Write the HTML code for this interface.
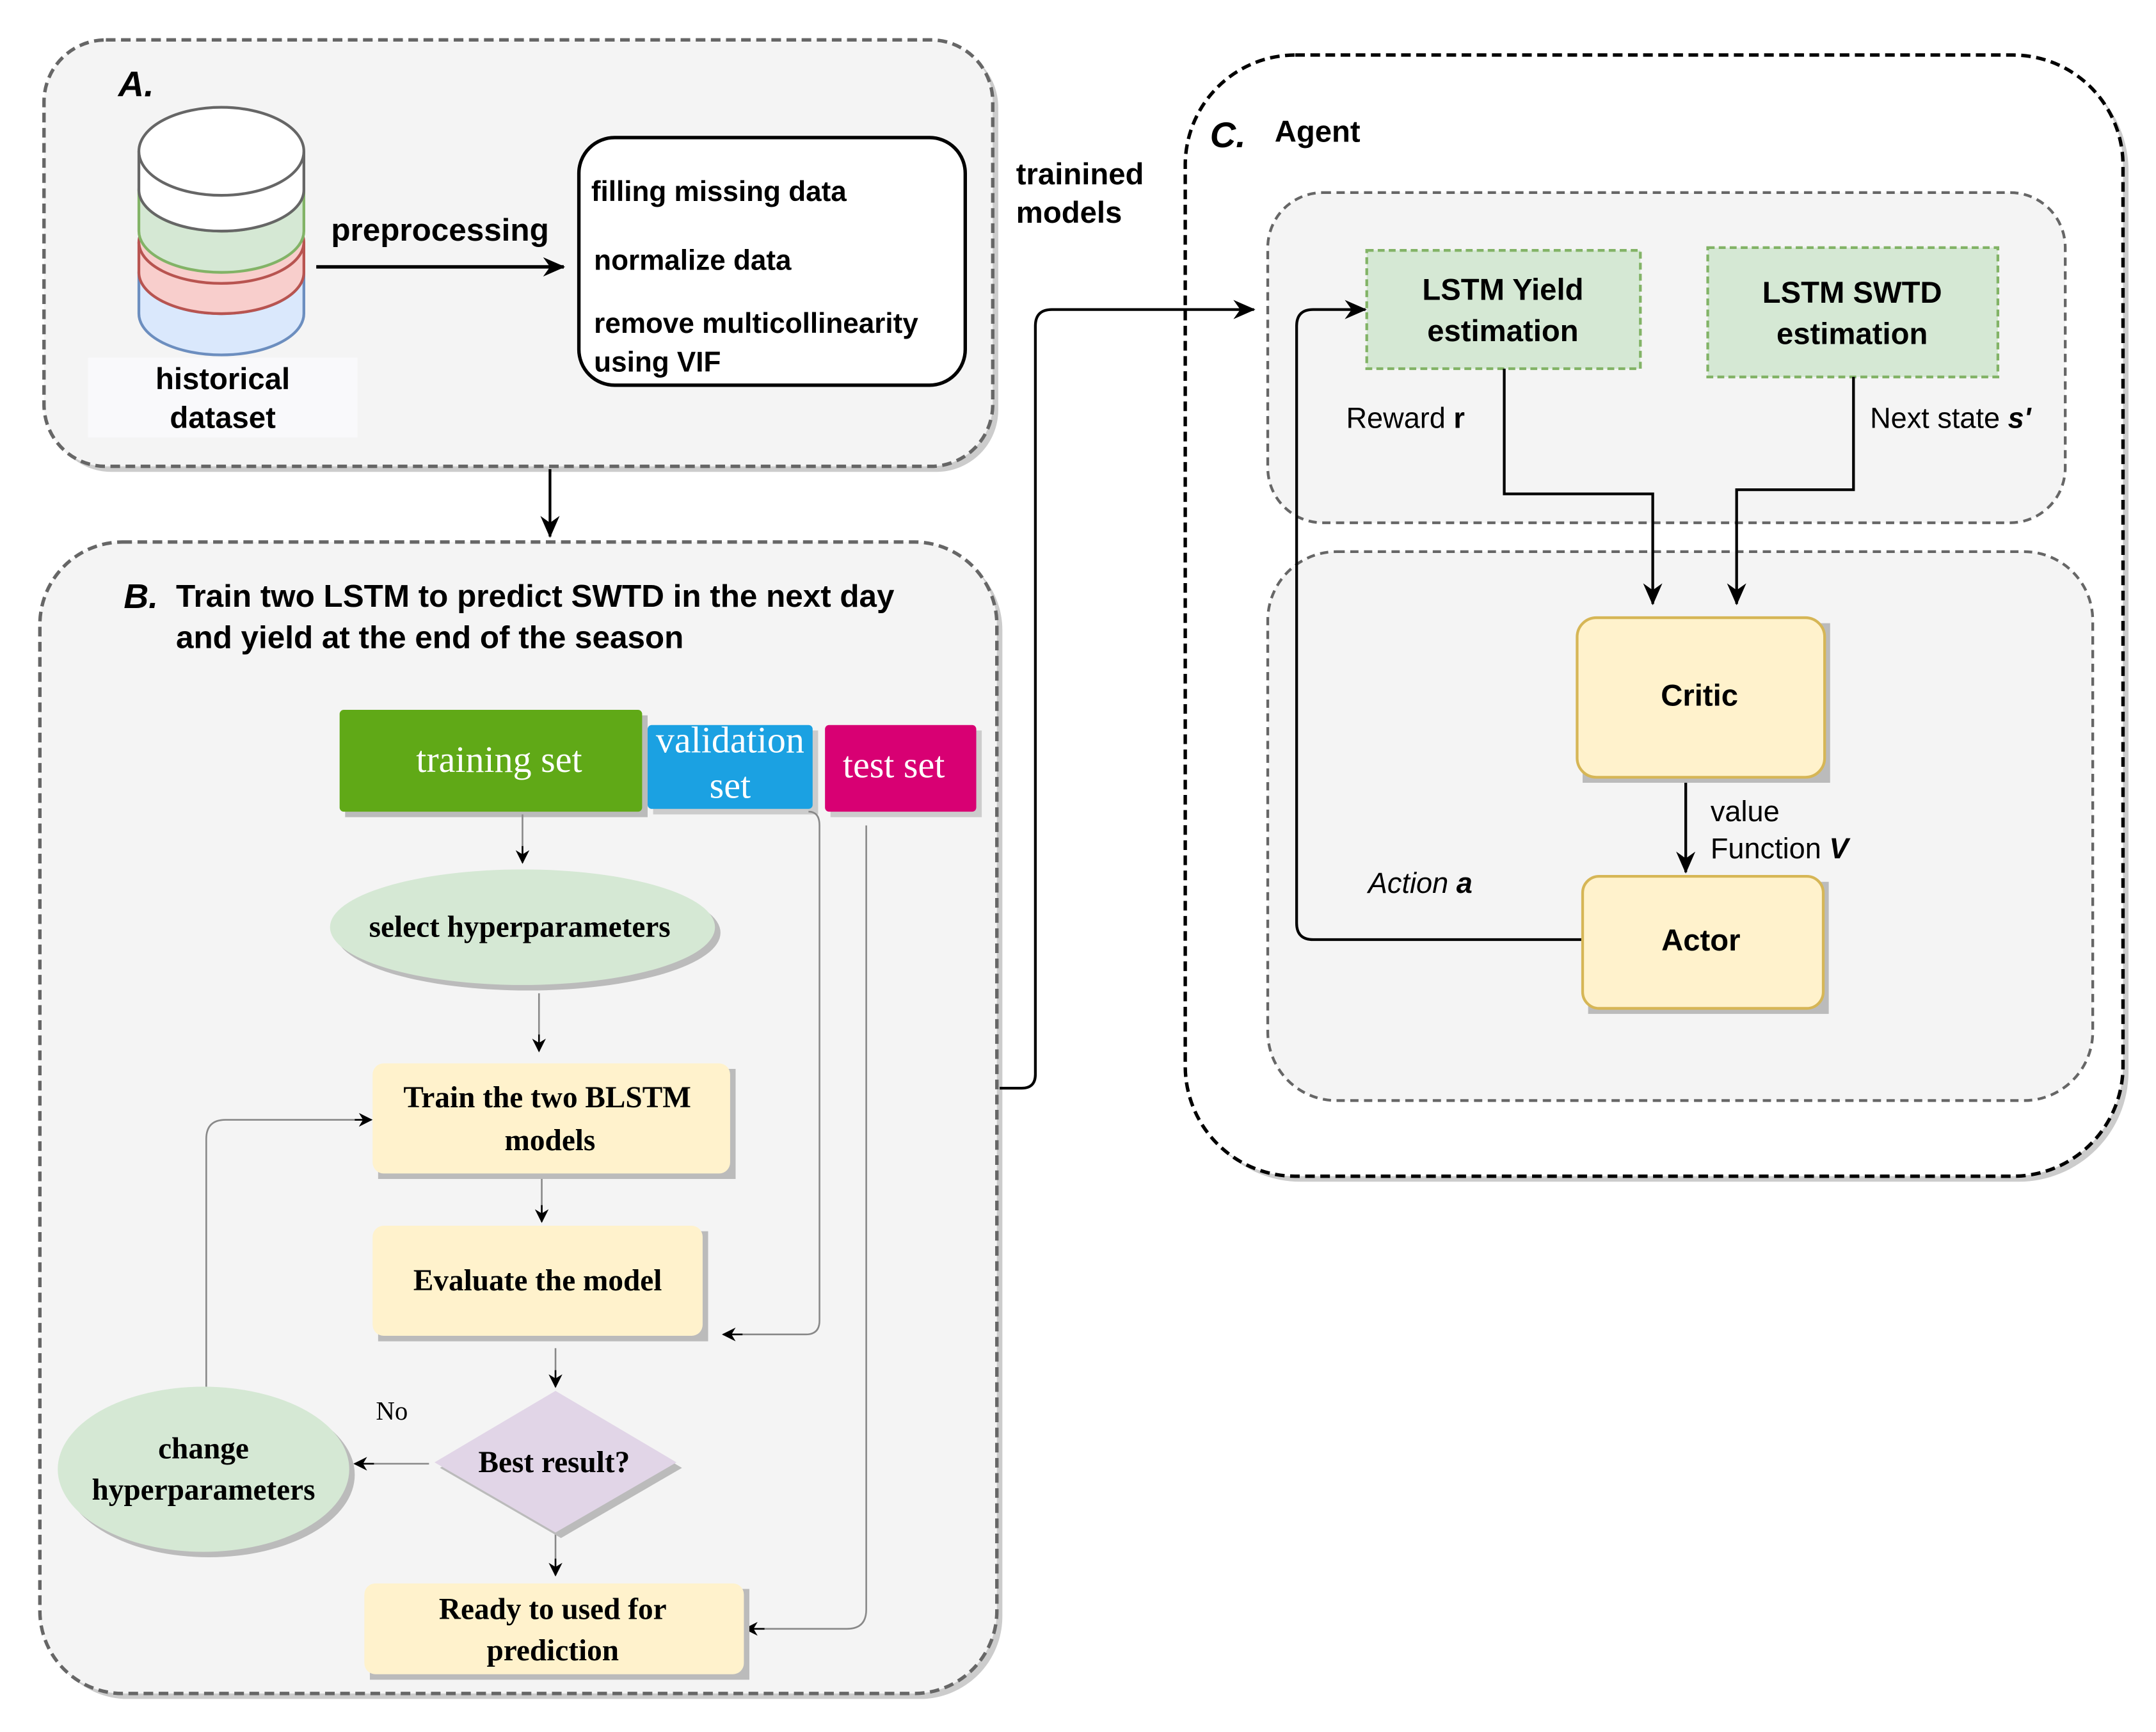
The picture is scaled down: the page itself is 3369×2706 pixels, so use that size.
<!DOCTYPE html>
<html><head><meta charset="utf-8"><style>
html,body{margin:0;padding:0;background:#fff;}
svg{display:block;}
.s{font-family:"Liberation Sans",sans-serif;}
.r{font-family:"Liberation Serif",serif;}
</style></head><body>
<svg width="3369" height="2706" viewBox="0 0 1568 1259" preserveAspectRatio="none" xmlns="http://www.w3.org/2000/svg">
<defs>
<marker id="ar" markerWidth="10" markerHeight="10" refX="9" refY="5" orient="auto" markerUnits="userSpaceOnUse"><path d="M0,0 L10,5 L0,10 L3,5 z" fill="#000"/></marker>
<marker id="ar2" markerWidth="16" markerHeight="14" refX="15" refY="7" orient="auto" markerUnits="userSpaceOnUse"><path d="M0,0 L16,7 L0,14 L5,7 z" fill="#000"/></marker>
</defs>
<!-- A -->
<rect x="36" y="33" width="690" height="310" rx="45" fill="#ccc"/>
<rect x="32" y="29" width="690" height="310" rx="45" fill="#f4f4f4" stroke="#666" stroke-width="2.5" stroke-dasharray="7,4"/>
<text x="86" y="70" class="s" font-size="26" font-weight="bold" font-style="italic">A.</text>
<g stroke-width="2">
<path d="M101,198 v30 a60,30 0 0 0 120,0 v-30" fill="#dae8fc" stroke="#6c8ebf"/>
<ellipse cx="161" cy="198" rx="60" ry="30" fill="#dae8fc" stroke="#6c8ebf"/>
<path d="M101,176 v22 a60,30 0 0 0 120,0 v-22" fill="#f8cecc" stroke="#b85450"/>
<ellipse cx="161" cy="176" rx="60" ry="30" fill="#f8cecc" stroke="#b85450"/>
<path d="M101,138 v30 a60,30 0 0 0 120,0 v-30" fill="#d5e8d4" stroke="#82b366"/>
<ellipse cx="161" cy="138" rx="60" ry="30" fill="#d5e8d4" stroke="#82b366"/>
<path d="M101,110 v28 a60,30 0 0 0 120,0 v-28" fill="#fff" stroke="#666"/>
<ellipse cx="161" cy="110" rx="60" ry="32" fill="#fff" stroke="#666"/>
</g>
<rect x="64" y="260" width="196" height="58" fill="#f9f9fb"/>
<text x="162" y="283" text-anchor="middle" class="s" font-size="22" font-weight="bold">historical</text>
<text x="162" y="311" text-anchor="middle" class="s" font-size="22" font-weight="bold">dataset</text>
<line x1="230" y1="194" x2="410" y2="194" stroke="#000" stroke-width="2.5" marker-end="url(#ar2)"/>
<text x="320" y="175" text-anchor="middle" class="s" font-size="23" font-weight="bold">preprocessing</text>
<rect x="421" y="100" width="281" height="180" rx="26" fill="#fff" stroke="#000" stroke-width="2.5"/>
<g class="s" font-size="20.5" font-weight="bold">
<text x="430" y="146">filling missing data</text>
<text x="432" y="196">normalize data</text>
<text x="432" y="242">remove multicollinearity</text>
<text x="432" y="270">using VIF</text>
</g>
<line x1="400" y1="341" x2="400" y2="390" stroke="#000" stroke-width="2" marker-end="url(#ar2)"/>
<text x="739" y="134" class="s" font-size="22" font-weight="bold">trainined</text>
<text x="739" y="162" class="s" font-size="22" font-weight="bold">models</text>
<!-- B -->
<rect x="33" y="398" width="696" height="837" rx="60" fill="#ccc"/>
<rect x="29" y="394" width="696" height="837" rx="60" fill="#f4f4f4" stroke="#666" stroke-width="2.5" stroke-dasharray="7,4"/>
<text x="90" y="442" class="s" font-size="25" font-weight="bold" font-style="italic">B.</text>
<text x="128" y="441" class="s" font-size="23" font-weight="bold">Train two LSTM to predict SWTD in the next day</text>
<text x="128" y="471" class="s" font-size="23" font-weight="bold">and yield at the end of the season</text>
<rect x="251" y="520" width="220" height="74" fill="#bbb"/>
<rect x="247" y="516" width="220" height="74" rx="3" fill="#60a917"/>
<text x="363" y="561" text-anchor="middle" class="r" font-size="27" fill="#fff">training set</text>
<rect x="475" y="531" width="120" height="61" fill="#ccc"/>
<rect x="471" y="527" width="120" height="61" rx="3" fill="#1ba1e2"/>
<text x="531" y="547" text-anchor="middle" class="r" font-size="27" fill="#fff">validation</text>
<text x="531" y="580" text-anchor="middle" class="r" font-size="27" fill="#fff">set</text>
<rect x="604" y="531" width="110" height="63" fill="#ccc"/>
<rect x="600" y="527" width="110" height="63" rx="3" fill="#d80073"/>
<text x="650" y="565" text-anchor="middle" class="r" font-size="27" fill="#fff">test set</text>
<g fill="none" stroke="#888" stroke-width="1.2">
<path d="M380,592 v35"/>
<path d="M392,722 v42"/>
<path d="M394,854 v34"/>
<path d="M404,980 v28"/>
<path d="M404,1113 v32"/>
<path d="M588,590 q8,0 8,10 v360 q0,10 -10,10 h-60"/>
<path d="M630,600 v570 q0,14 -14,14 h-74"/>
<path d="M150,1008 v-180 q0,-14 14,-14 h106"/>
<path d="M312,1064 h-54"/>
</g>
<g stroke="#000" stroke-width="1.2" fill="none">
<path d="M380,615 v12" marker-end="url(#ar)"/>
<path d="M392,752 v12" marker-end="url(#ar)"/>
<path d="M394,876 v12" marker-end="url(#ar)"/>
<path d="M404,996 v12" marker-end="url(#ar)"/>
<path d="M404,1133 v12" marker-end="url(#ar)"/>
<path d="M540,970 h-14" marker-end="url(#ar)"/>
<path d="M556,1184 h-14" marker-end="url(#ar)"/>
<path d="M258,814 h12" marker-end="url(#ar)"/>
<path d="M272,1064 h-14" marker-end="url(#ar)"/>
</g>
<ellipse cx="384" cy="678" rx="140" ry="42" fill="#bbb"/>
<ellipse cx="380" cy="674" rx="140" ry="42" fill="#d5e8d4"/>
<text x="378" y="681" text-anchor="middle" class="r" font-size="22" font-weight="bold">select hyperparameters</text>
<rect x="275" y="777" width="260" height="80" fill="#bbb"/>
<rect x="271" y="773" width="260" height="80" rx="8" fill="#fff2cc"/>
<text x="398" y="805" text-anchor="middle" class="r" font-size="22" font-weight="bold">Train the two BLSTM</text>
<text x="400" y="836" text-anchor="middle" class="r" font-size="22" font-weight="bold">models</text>
<rect x="275" y="895" width="240" height="80" fill="#bbb"/>
<rect x="271" y="891" width="240" height="80" rx="8" fill="#fff2cc"/>
<text x="391" y="938" text-anchor="middle" class="r" font-size="22" font-weight="bold">Evaluate the model</text>
<ellipse cx="152" cy="1072" rx="106" ry="60" fill="#bbb"/>
<ellipse cx="148" cy="1068" rx="106" ry="60" fill="#d5e8d4"/>
<text x="148" y="1060" text-anchor="middle" class="r" font-size="22" font-weight="bold">change</text>
<text x="148" y="1090" text-anchor="middle" class="r" font-size="22" font-weight="bold">hyperparameters</text>
<polygon points="408,1015 496,1067 408,1118 320,1067" fill="#bbb"/>
<polygon points="404,1011 492,1063 404,1114 316,1063" fill="#e1d5e7"/>
<text x="403" y="1070" text-anchor="middle" class="r" font-size="22" font-weight="bold">Best result?</text>
<text x="285" y="1032" text-anchor="middle" class="r" font-size="19">No</text>
<rect x="269" y="1155" width="276" height="66" fill="#bbb"/>
<rect x="265" y="1151" width="276" height="66" rx="8" fill="#fff2cc"/>
<text x="402" y="1177" text-anchor="middle" class="r" font-size="22" font-weight="bold">Ready to used for</text>
<text x="402" y="1207" text-anchor="middle" class="r" font-size="22" font-weight="bold">prediction</text>
<!-- C -->
<rect x="866" y="44" width="682" height="815" rx="80" fill="#ccc"/>
<rect x="862" y="40" width="682" height="815" rx="80" fill="#fff" stroke="#000" stroke-width="2.5" stroke-dasharray="7,4"/>
<!-- connector B to C -->
<path d="M727,791 h16 q10,0 10,-10 v-544 q0,-12 12,-12 h147" fill="none" stroke="#000" stroke-width="2" marker-end="url(#ar2)"/>
<text x="880" y="107" class="s" font-size="26" font-weight="bold" font-style="italic">C.</text>
<text x="927" y="103" class="s" font-size="22" font-weight="bold">Agent</text>
<rect x="922" y="140" width="580" height="240" rx="40" fill="#f4f4f4" stroke="#666" stroke-width="2" stroke-dasharray="6,4"/>
<rect x="922" y="401" width="600" height="399" rx="50" fill="#f4f4f4" stroke="#666" stroke-width="2" stroke-dasharray="6,4"/>
<rect x="994" y="182" width="199" height="86" fill="#d5e8d4" stroke="#82b366" stroke-width="2" stroke-dasharray="5,3"/>
<text x="1093" y="218" text-anchor="middle" class="s" font-size="22" font-weight="bold">LSTM Yield</text>
<text x="1093" y="248" text-anchor="middle" class="s" font-size="22" font-weight="bold">estimation</text>
<rect x="1242" y="180" width="211" height="94" fill="#d5e8d4" stroke="#82b366" stroke-width="2" stroke-dasharray="5,3"/>
<text x="1347" y="220" text-anchor="middle" class="s" font-size="22" font-weight="bold">LSTM SWTD</text>
<text x="1347" y="250" text-anchor="middle" class="s" font-size="22" font-weight="bold">estimation</text>
<text x="979" y="311" class="s" font-size="21">Reward <tspan font-weight="bold">r</tspan></text>
<text x="1360" y="311" class="s" font-size="21">Next state <tspan font-weight="bold" font-style="italic">s'</tspan></text>
<g fill="none" stroke="#000" stroke-width="2">
<path d="M1094,268 v91 h108 v80" marker-end="url(#ar2)"/>
<path d="M1348,274 v82 h-85 v83" marker-end="url(#ar2)"/>
<path d="M1226,564 v70" marker-end="url(#ar2)"/>
<path d="M1150,683 h-195 q-12,0 -12,-12 v-434 q0,-12 12,-12 h38" marker-end="url(#ar2)"/>
</g>
<rect x="1151" y="453" width="180" height="116" fill="#bbb"/>
<rect x="1147" y="449" width="180" height="116" rx="14" fill="#fff2cc" stroke="#d6b656" stroke-width="2"/>
<text x="1236" y="513" text-anchor="middle" class="s" font-size="22" font-weight="bold">Critic</text>
<text x="1244" y="597" class="s" font-size="21">value</text>
<text x="1244" y="624" class="s" font-size="21">Function <tspan font-weight="bold" font-style="italic">V</tspan></text>
<text x="995" y="649" class="s" font-size="21" font-style="italic">Action <tspan font-weight="bold">a</tspan></text>
<rect x="1155" y="641" width="175" height="96" fill="#bbb"/>
<rect x="1151" y="637" width="175" height="96" rx="12" fill="#fff2cc" stroke="#d6b656" stroke-width="2"/>
<text x="1237" y="691" text-anchor="middle" class="s" font-size="22" font-weight="bold">Actor</text>
</svg>
</body></html>
